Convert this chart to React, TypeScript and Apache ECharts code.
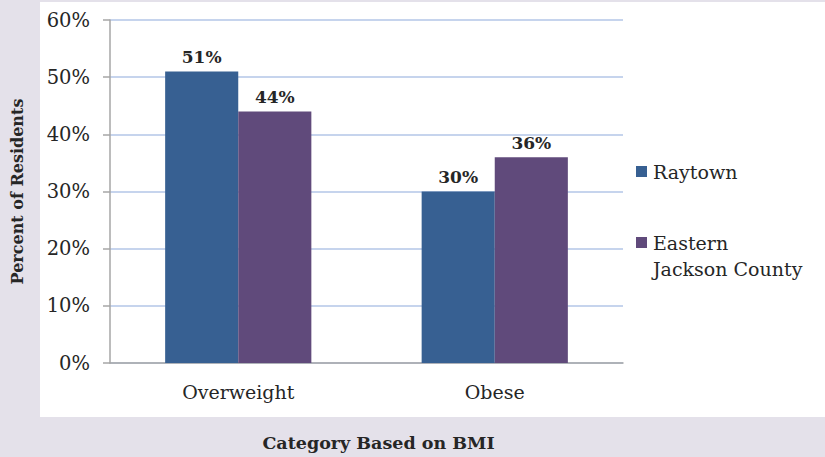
import React, { useEffect, useRef } from "react";
import * as echarts from "echarts";

const categories = ["Overweight", "Obese"];
const seriesNames = ["Raytown", "Eastern Jackson County"];
const raytown = [51, 30];
const easternJackson = [44, 36];
const yTicks = [0, 10, 20, 30, 40, 50, 60];
const colors = ["#376092", "#604A7B"];

const FONT = "DejaVu Serif";

export default function App() {
  const ref = useRef<HTMLDivElement>(null);
  useEffect(() => {
    if (!ref.current) return;
    const chart = echarts.init(ref.current, undefined, { renderer: "svg" });
    const labelStyle = {
      show: true,
      position: "top",
      formatter: (p: any) => `${p.value}%`,
      fontFamily: FONT,
      fontWeight: "bold",
      fontSize: 17,
      color: "#262626",
      distance: 6,
    };
    chart.setOption({
      animation: false,
      backgroundColor: "#e4e1ea",
      graphic: [
        {
          type: "rect",
          z: -10,
          shape: { x: 40, y: 2, width: 785, height: 415 },
          style: { fill: "#ffffff" },
          silent: true,
        },
        {
          type: "rect",
          shape: { x: 636, y: 166, width: 11, height: 11 },
          style: { fill: colors[0] },
        },
        {
          type: "text",
          x: 653,
          y: 172,
          style: {
            text: seriesNames[0],
            fontFamily: FONT,
            fontSize: 19,
            fill: "#262626",
            verticalAlign: "middle",
          },
        },
        {
          type: "rect",
          shape: { x: 636, y: 237, width: 11, height: 11 },
          style: { fill: colors[1] },
        },
        {
          type: "text",
          x: 653,
          y: 230,
          style: {
            text: "Eastern\nJackson County",
            fontFamily: FONT,
            fontSize: 19,
            lineHeight: 26,
            fill: "#262626",
            verticalAlign: "top",
          },
        },
      ],
      grid: { left: 110, right: 202, top: 20, bottom: 94, containLabel: false },
      xAxis: {
        type: "category",
        data: categories,
        name: "Category Based on BMI",
        nameLocation: "middle",
        nameGap: 71,
        nameTextStyle: {
          fontFamily: FONT,
          fontWeight: "bold",
          fontSize: 17.5,
          color: "#262626",
          padding: [0, 0, 0, 24],
        },
        axisLine: { show: true, lineStyle: { color: "#a6a6a6", width: 1.5 } },
        axisTick: { show: false },
        axisLabel: { fontFamily: FONT, fontSize: 19, color: "#262626", margin: 19 },
      },
      yAxis: {
        type: "value",
        min: yTicks[0],
        max: yTicks[yTicks.length - 1],
        interval: 10,
        name: "Percent of Residents",
        nameLocation: "middle",
        nameGap: 85,
        nameTextStyle: { fontFamily: FONT, fontWeight: "bold", fontSize: 16, color: "#262626" },
        axisLine: { show: true, lineStyle: { color: "#a6a6a6", width: 1.5 } },
        axisTick: { show: true, inside: false, length: 7, lineStyle: { color: "#a6a6a6", width: 1.5 } },
        axisLabel: {
          fontFamily: FONT,
          fontSize: 19.5,
          color: "#262626",
          margin: 20,
          formatter: (v: number) => `${v}%`,
        },
        splitLine: { show: true, lineStyle: { color: "#b3c6e7", width: 1.5 } },
      },
      series: [
        {
          name: seriesNames[0],
          type: "bar",
          data: raytown,
          itemStyle: { color: colors[0] },
          barGap: "0%",
          barCategoryGap: "43%",
          label: labelStyle,
        },
        {
          name: seriesNames[1],
          type: "bar",
          data: easternJackson,
          itemStyle: { color: colors[1] },
          barGap: "0%",
          barCategoryGap: "43%",
          label: labelStyle,
        },
      ],
    });
    return () => chart.dispose();
  }, []);
  return <div ref={ref} style={{ width: 825, height: 457, position: "absolute", left: 0, top: 0 }} />;
}
